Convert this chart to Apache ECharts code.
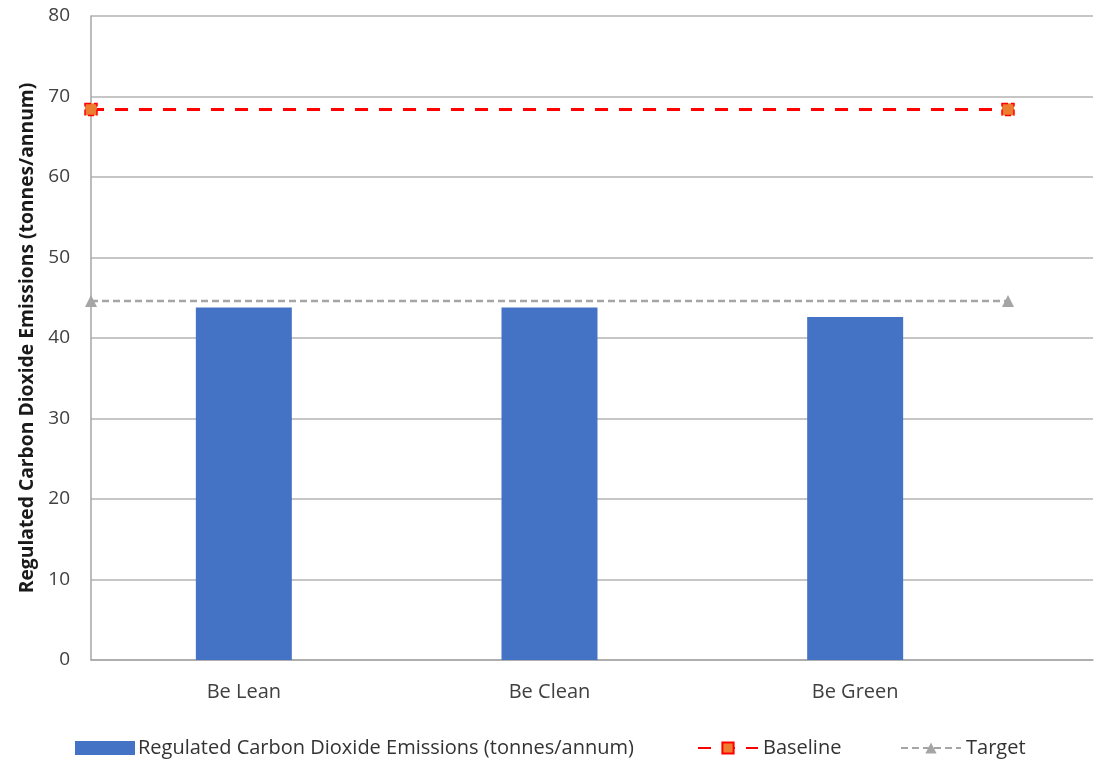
<!DOCTYPE html>
<html>
<head>
<meta charset="utf-8">
<script src="https://cdn.jsdelivr.net/npm/echarts@6/dist/echarts.min.js"></script>
<style>html,body{margin:0;padding:0;background:#fff}#c{width:1094px;height:760px}</style>
</head>
<body>
<div id="c"></div>
<script>
var categories = ['Be Lean', 'Be Clean', 'Be Green'];
var emissions = [43.8, 43.8, 42.6];
var baseline = [68.4, 68.4];
var target = [44.6, 44.6];
var yTicks = [0, 10, 20, 30, 40, 50, 60, 70, 80];

var FONT = '"Open Sans", "Noto Sans", sans-serif';
var chart = echarts.init(document.getElementById('c'), null, {renderer: 'canvas'});
var option = {
  animation: false,
  textStyle: {fontFamily: FONT},
  grid: [
    {left: 91, right: 1, top: 16, bottom: 100},
    {left: 91, width: 917, top: 16, bottom: 100}
  ],
  xAxis: [
    {gridIndex: 0, type: 'value', min: 0, max: 1, axisLabel: {show: false}, axisTick: {show: false}, splitLine: {show: false},
     axisLine: {show: true, lineStyle: {color: '#a6a6a6', width: 1.5}}},
    {gridIndex: 1, type: 'category', data: categories, axisLine: {show: false}, axisTick: {show: false},
     axisLabel: {color: '#404040', fontSize: 20, margin: 22, fontFamily: FONT}},
    {gridIndex: 1, type: 'category', data: ['', ''], boundaryGap: false, show: false}
  ],
  yAxis: [
    {gridIndex: 0, type: 'value', min: yTicks[0], max: yTicks[yTicks.length - 1], interval: 10,
     axisLine: {show: true, lineStyle: {color: '#a6a6a6', width: 1.5}}, axisTick: {show: false},
     axisLabel: {color: '#404040', fontSize: 19, margin: 21, fontFamily: FONT},
     splitLine: {lineStyle: {color: '#b3b3b3', width: 1.5}},
     name: 'Regulated Carbon Dioxide Emissions (tonnes/annum)', nameLocation: 'middle', nameGap: 54,
     nameTextStyle: {color: '#1a1a1a', fontSize: 19.3, fontWeight: 'bold', fontFamily: FONT}},
    {gridIndex: 1, type: 'value', min: 0, max: 80, show: false}
  ],
  legend: [
    {left: 70, top: 733, itemWidth: 60, itemHeight: 14, itemGap: 5, icon: 'rect', data: ['Regulated Carbon Dioxide Emissions (tonnes/annum)'],
     textStyle: {color: '#333333', fontSize: 20, fontFamily: FONT, padding: [0, 0, 0, -2]}},
    {left: 692, top: 733, itemWidth: 60, itemHeight: 14, data: ['Baseline'],
     textStyle: {color: '#333333', fontSize: 20, fontFamily: FONT}},
    {left: 895, top: 733, itemWidth: 60, itemHeight: 14, data: ['Target'],
     textStyle: {color: '#333333', fontSize: 20, fontFamily: FONT}}
  ],
  series: [
    {name: 'Regulated Carbon Dioxide Emissions (tonnes/annum)', type: 'bar', xAxisIndex: 1, yAxisIndex: 1,
     data: emissions, barWidth: '31.4%', itemStyle: {color: '#4472c4'}},
    {name: 'Baseline', type: 'line', xAxisIndex: 2, yAxisIndex: 1, data: baseline,
     symbol: 'rect', symbolSize: 12,
     itemStyle: {color: '#ed7d31', borderColor: '#ff0000', borderWidth: 1.5, borderType: 'dashed'},
     lineStyle: {color: '#ff0000', width: 3, type: [13, 11]}},
    {name: 'Target', type: 'line', xAxisIndex: 2, yAxisIndex: 1, data: target,
     symbol: 'triangle', symbolSize: 12,
     itemStyle: {color: '#a5a5a5'},
     lineStyle: {color: '#a5a5a5', width: 2.5, type: [7, 4]}}
  ]
};
chart.setOption(option);
</script>
</body>
</html>
